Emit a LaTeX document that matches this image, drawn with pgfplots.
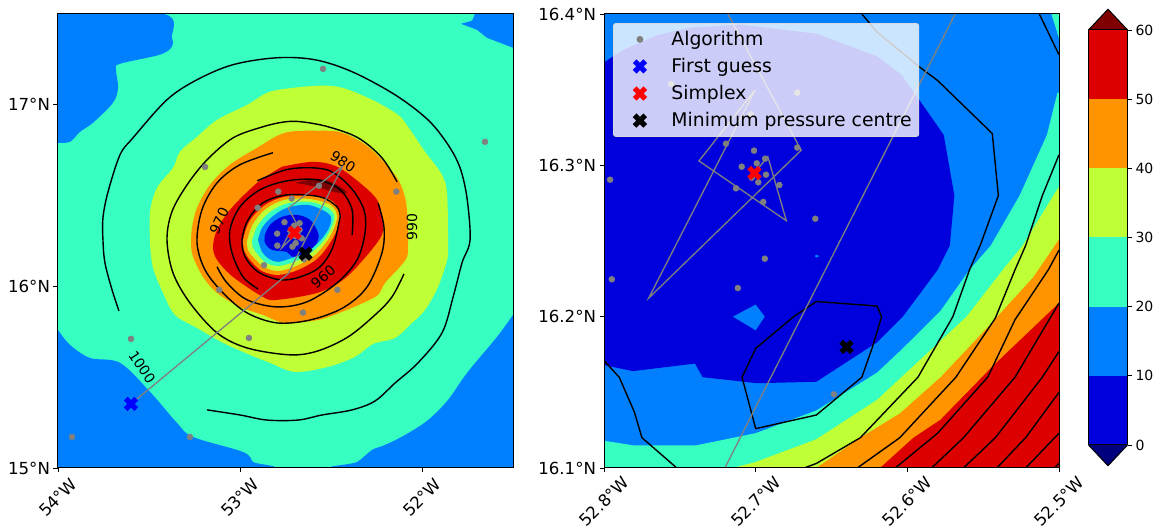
\documentclass[border=0pt]{standalone}
\usepackage{pgfplots}
\usepackage{pgfplotstable}
\usepackage{fontspec}
\setmainfont{DejaVu Sans}
\pgfplotsset{compat=1.18}
\definecolor{cLow}{RGB}{0,0,127}
\definecolor{cA}{RGB}{0,0,220}
\definecolor{cB}{RGB}{0,128,255}
\definecolor{cC}{RGB}{54,255,193}
\definecolor{cD}{RGB}{190,255,54}
\definecolor{cE}{RGB}{255,147,0}
\definecolor{cF}{RGB}{220,0,0}
\definecolor{cHigh}{RGB}{127,0,0}
\definecolor{cGrey}{RGB}{128,128,128}
\pgfplotstableread{
lon lat
-53.599 15.353
-52.736 16.069
-52.437 16.660
-52.735 16.431
-52.670 16.310
-52.7705 16.2123
-52.7004 16.3498
-52.7374 16.3029
-52.6798 16.2634
-52.692 16.3057
-52.7008 16.2949
}\tracktable
\pgfplotstableread{
lon lat
-52.544 17.198
-51.654 16.796
-53.192 16.658
-52.141 16.522
-53.599 15.711
-53.923 15.171
-53.275 15.171
-52.951 15.716
-52.654 15.856
-52.465 15.981
-53.114 15.981
-52.868 16.117
-52.903 16.433
-52.790 16.522
-52.716 16.484
-52.566 16.554
-52.7558 16.3537
-52.6726 16.348
-52.7033 16.3337
-52.7196 16.3143
-52.6726 16.3117
-52.7011 16.3097
-52.6938 16.3044
-52.6993 16.3013
-52.7092 16.2991
-52.6932 16.2938
-52.7026 16.2918
-52.6983 16.2888
-52.6844 16.287
-52.713 16.2848
-52.695 16.2758
-52.6607 16.2647
-52.796 16.2905
-52.694 16.2383
-52.7118 16.2189
-52.7949 16.2247
-52.6484 16.1487
}\algotable
\pgfplotsset{
  mapaxis/.style={
    scale only axis, width=455pt, height=454pt, anchor=south west,
    axis on top, axis line style={line width=1pt},
    tick style={black, line width=0.9pt},
    tickwidth=4.5pt, tick align=outside,
    xtick pos=bottom, ytick pos=left,
    tick label style={font=\fontsize{16.6}{18}\selectfont},
    clip=true,
  },
  region/.style={fill=#1, draw=none, forget plot},
  sregion/.style={fill=#1, draw=none, forget plot, smooth, tension=0.55},
  contour/.style={black, line width=1.4pt, forget plot, line join=round},
  scontour/.style={black, line width=1.4pt, forget plot, line join=round, smooth, tension=0.55},
  track/.style={cGrey, line width=1.3pt, forget plot, line join=miter},
  algo/.style={only marks, mark=*, mark size=3pt, mark options={draw=cGrey, fill=cGrey, fill opacity=1, draw opacity=1},
    legend image code/.code={\path[draw=none] (0pt,0pt) -- (51pt,0pt); \draw[mark repeat=2,mark phase=2,##1,draw=none] plot coordinates {(0pt,0pt)(21.5pt,0pt)(51pt,0pt)};}},
  xmark/.style={only marks, mark=x, mark size=7.5pt, mark options={draw=#1, line width=5.2pt, draw opacity=1},
    legend image code/.code={\path[draw=none] (0pt,0pt) -- (51pt,0pt); \draw[mark repeat=2,mark phase=2,##1,draw=none] plot coordinates {(0pt,0pt)(21.5pt,0pt)(51pt,0pt)};}},
}
\begin{document}
\begin{tikzpicture}[x=1pt,y=1pt]
\path[use as bounding box] (0,0) rectangle (1168,530);
\begin{axis}[mapaxis, at={(58pt,62pt)},
  xmin=-54, xmax=-51.5, ymin=15, ymax=17.5,
  xtick={-54,-53,-52}, xticklabels={54°W,53°W,52°W},
  ytick={15,16,17}, yticklabels={15°N,16°N,17°N},
  x tick label style={yshift=-25pt, rotate=45, anchor=center},
]
\addplot[region=cC] coordinates {(-54,15)(-51.5,15)(-51.5,17.5)(-54,17.5)};
\addplot[sregion=cB] coordinates {(-54,17.5)(-53.418,17.5)(-53.374,17.369)(-53.374,17.320)(-53.440,17.276)(-53.659,17.226)(-53.681,17.193)(-53.670,17.094)(-53.698,17.011)(-53.808,16.901)(-53.879,16.851)(-53.934,16.796)(-54,16.791)};
\addplot[region=cB] coordinates {(-51.709,17.5)(-51.725,17.463)(-51.786,17.446)(-51.698,17.413)(-51.643,17.369)(-51.5,17.314)(-51.5,17.5)};
\addplot[sregion=cB] coordinates {(-54,15.760)(-53.934,15.678)(-53.824,15.606)(-53.659,15.579)(-53.494,15.419)(-53.346,15.248)(-53.258,15.171)(-52.983,15.088)(-52.928,15.033)(-52.874,15)(-54,15)};
\addplot[sregion=cB] coordinates {(-51.5,15.843)(-51.588,15.722)(-51.753,15.523)(-51.857,15.375)(-51.967,15.264)(-52.093,15.182)(-52.203,15.127)(-52.275,15.099)(-52.357,15.033)(-52.461,15)(-51.5,15)};
\addplot[sregion=cD] coordinates {(-53.494,16.229)(-53.494,16.411)(-53.456,16.543)(-53.368,16.653)(-53.330,16.741)(-53.236,16.824)(-53.126,16.917)(-52.961,17.000)(-52.852,17.066)(-52.753,17.088)(-52.571,17.105)(-52.439,17.094)(-52.275,17.028)(-52.132,16.945)(-52.077,16.879)(-51.983,16.741)(-51.890,16.614)(-51.862,16.504)(-51.857,16.229)(-51.862,16.146)(-51.912,15.997)(-51.983,15.871)(-52.055,15.799)(-52.148,15.716)(-52.269,15.683)(-52.368,15.612)(-52.516,15.557)(-52.698,15.529)(-52.835,15.579)(-52.945,15.623)(-53.093,15.689)(-53.236,15.771)(-53.357,15.843)(-53.423,15.964)(-53.478,16.102)(-53.494,16.229)};
\addplot[sregion=cE] coordinates {(-53.269,16.229)(-53.264,16.322)(-53.236,16.433)(-53.165,16.559)(-53.055,16.670)(-52.906,16.763)(-52.753,16.846)(-52.571,16.857)(-52.439,16.846)(-52.297,16.769)(-52.148,16.614)(-52.093,16.488)(-52.077,16.339)(-52.077,16.229)(-52.082,16.163)(-52.121,16.108)(-52.203,16.019)(-52.242,15.953)(-52.324,15.909)(-52.439,15.860)(-52.571,15.815)(-52.753,15.799)(-52.874,15.843)(-53.000,15.887)(-53.126,15.964)(-53.203,16.052)(-53.258,16.163)(-53.269,16.229)};
\addplot[sregion=cF] coordinates {(-52.769,16.659)(-52.599,16.686)(-52.467,16.659)(-52.341,16.570)(-52.247,16.477)(-52.220,16.383)(-52.220,16.284)(-52.324,16.146)(-52.434,16.036)(-52.577,15.964)(-52.797,15.926)(-52.874,15.942)(-53.038,16.052)(-53.126,16.146)(-53.148,16.218)(-53.126,16.311)(-53.055,16.422)(-52.906,16.570)(-52.769,16.659)};
\addplot[sregion=cHigh] coordinates {(-52.698,16.570)(-52.560,16.592)(-52.467,16.559)(-52.412,16.515)(-52.489,16.521)(-52.577,16.548)(-52.698,16.570)};
\addplot[sregion=cE] coordinates {(-52.983,16.256)(-52.950,16.355)(-52.868,16.444)(-52.758,16.493)(-52.615,16.499)(-52.505,16.477)(-52.456,16.422)(-52.450,16.366)(-52.489,16.267)(-52.571,16.157)(-52.681,16.091)(-52.791,16.063)(-52.879,16.085)(-52.945,16.146)(-52.978,16.201)(-52.983,16.256)};
\addplot[sregion=cD] coordinates {(-52.961,16.251)(-52.928,16.344)(-52.857,16.427)(-52.753,16.477)(-52.626,16.482)(-52.516,16.455)(-52.472,16.411)(-52.472,16.355)(-52.511,16.267)(-52.588,16.174)(-52.692,16.113)(-52.791,16.085)(-52.868,16.108)(-52.923,16.157)(-52.956,16.201)(-52.961,16.251)};
\addplot[sregion=cC] coordinates {(-52.934,16.251)(-52.906,16.328)(-52.841,16.405)(-52.747,16.455)(-52.626,16.466)(-52.527,16.438)(-52.483,16.394)(-52.494,16.333)(-52.538,16.256)(-52.610,16.185)(-52.703,16.135)(-52.791,16.113)(-52.857,16.130)(-52.901,16.174)(-52.928,16.212)(-52.934,16.251)};
\addplot[sregion=cB] coordinates {(-52.901,16.256)(-52.879,16.322)(-52.824,16.383)(-52.742,16.433)(-52.632,16.449)(-52.549,16.422)(-52.500,16.383)(-52.511,16.322)(-52.560,16.251)(-52.632,16.190)(-52.714,16.157)(-52.791,16.135)(-52.841,16.152)(-52.879,16.190)(-52.901,16.256)};
\addplot[sregion=cA] coordinates {(-52.863,16.284)(-52.835,16.339)(-52.769,16.383)(-52.687,16.394)(-52.615,16.366)(-52.571,16.295)(-52.577,16.240)(-52.632,16.190)(-52.709,16.163)(-52.742,16.190)(-52.824,16.201)(-52.863,16.240)(-52.863,16.284)};
% contours
\addplot[scontour] coordinates {(-53.665,15.865)(-53.703,15.981)(-53.742,16.130)(-53.753,16.256)(-53.753,16.378)(-53.725,16.521)(-53.659,16.725)(-53.588,16.818)(-53.401,17.028)(-53.236,17.138)(-53.038,17.221)(-52.797,17.259)(-52.588,17.248)(-52.384,17.182)(-52.148,17.055)(-51.967,16.917)(-51.857,16.780)(-51.791,16.653)(-51.753,16.488)(-51.736,16.256)(-51.780,16.130)(-51.829,15.942)(-51.890,15.744)(-52.022,15.579)(-52.148,15.468)(-52.258,15.369)(-52.384,15.320)(-52.549,15.292)(-52.681,15.264)(-52.852,15.264)(-53.000,15.292)(-53.181,15.320)};
\addplot[scontour] coordinates {(-52.137,16.576)(-52.220,16.708)(-52.351,16.818)(-52.516,16.879)(-52.659,16.906)(-52.753,16.906)(-52.874,16.879)(-53.038,16.818)(-53.181,16.697)(-53.291,16.559)(-53.374,16.411)(-53.401,16.256)(-53.368,16.074)(-53.275,15.909)(-53.126,15.744)(-52.961,15.661)(-52.725,15.623)(-52.571,15.645)(-52.406,15.722)(-52.258,15.843)(-52.165,15.942)(-52.099,16.069)};
\addplot[scontour] coordinates {(-52.819,16.736)(-53.000,16.670)(-53.126,16.570)(-53.209,16.422)(-53.236,16.240)(-53.192,16.091)(-53.093,15.964)(-52.961,15.854)(-52.797,15.799)(-52.615,15.815)(-52.434,15.882)(-52.302,15.997)(-52.220,16.185)(-52.209,16.328)(-52.242,16.460)};
\addplot[scontour] coordinates {(-52.906,16.581)(-52.725,16.647)(-52.522,16.642)(-52.395,16.548)(-52.319,16.422)(-52.313,16.295)(-52.357,16.146)(-52.467,16.019)(-52.632,15.915)(-52.797,15.887)(-52.961,15.926)(-53.071,16.019)(-53.126,16.108)};
\addplot[scontour] coordinates {(-52.901,15.986)(-52.983,16.052)(-53.044,16.185)(-53.055,16.311)(-53.000,16.438)(-52.890,16.532)(-52.742,16.581)(-52.577,16.587)(-52.450,16.532)(-52.384,16.422)(-52.384,16.284)};
\addplot[scontour] coordinates {(-52.450,16.383)(-52.467,16.438)(-52.560,16.493)(-52.742,16.504)(-52.874,16.460)(-52.956,16.366)(-52.989,16.256)(-52.972,16.163)(-52.901,16.080)(-52.780,16.036)(-52.670,16.052)(-52.560,16.108)(-52.489,16.218)(-52.450,16.383)};
\node[font=\fontsize{14}{16}\selectfont, rotate=-56] at (axis cs:-53.538,15.556) {1000};
\node[font=\fontsize{14}{16}\selectfont, rotate=65] at (axis cs:-53.115,16.361) {970};
\node[font=\fontsize{14}{16}\selectfont, rotate=-33] at (axis cs:-52.434,16.686) {980};
\node[font=\fontsize{14}{16}\selectfont, rotate=90] at (axis cs:-52.055,16.328) {990};
\node[font=\fontsize{14}{16}\selectfont, rotate=40] at (axis cs:-52.543,16.052) {960};
\addplot[track] table[x=lon,y=lat] {\tracktable};
\addplot[algo, forget plot] table[x=lon,y=lat] {\algotable};
\addplot[xmark=blue, forget plot] coordinates {(-53.599,15.353)};
\addplot[xmark=red, forget plot] coordinates {(-52.7008,16.2949)};
\addplot[xmark=black, forget plot] coordinates {(-52.6401,16.18)};
\end{axis}

\begin{axis}[mapaxis, at={(604pt,62pt)},
  xmin=-52.8, xmax=-52.5, ymin=16.1, ymax=16.4,
  xtick={-52.8,-52.7,-52.6,-52.5}, xticklabels={52.8°W,52.7°W,52.6°W,52.5°W},
  ytick={16.1,16.2,16.3,16.4}, yticklabels={16.1°N,16.2°N,16.3°N,16.4°N},
  x tick label style={yshift=-29pt, rotate=45, anchor=center},
  legend cell align=left,
  legend style={at={(0.0198,0.98)}, anchor=north west,
    fill=white, fill opacity=0.8, draw opacity=1, text opacity=1,
    draw=black!15, rounded corners=2.5pt, line width=0.8pt,
    font=\fontsize{18.8}{21}\selectfont,
    inner xsep=5pt, inner ysep=6pt, row sep=7.3pt},
]
\addplot[region=cB] coordinates {(-52.8,16.1)(-52.5,16.1)(-52.5,16.4)(-52.8,16.4)};
\addplot[region=cA] coordinates {(-52.8,16.368)(-52.788,16.376)(-52.765,16.386)(-52.743,16.391)(-52.710,16.393)(-52.660,16.387)(-52.620,16.372)(-52.604,16.360)(-52.585,16.333)(-52.576,16.320)(-52.569,16.280)(-52.572,16.247)(-52.580,16.231)(-52.603,16.200)(-52.620,16.183)(-52.660,16.157)(-52.699,16.156)(-52.735,16.160)(-52.740,16.169)(-52.781,16.164)(-52.8,16.168)};
\addplot[region=cB] coordinates {(-52.715,16.200)(-52.700,16.208)(-52.694,16.200)(-52.700,16.191)};
\addplot[region=cB] coordinates {(-52.661,16.240)(-52.660,16.241)(-52.658,16.240)(-52.660,16.239)};
\addplot[region=cC] coordinates {(-52.8,16.118)(-52.781,16.115)(-52.739,16.115)(-52.700,16.123)(-52.660,16.138)(-52.620,16.163)(-52.603,16.179)(-52.578,16.204)(-52.559,16.231)(-52.545,16.247)(-52.526,16.280)(-52.508,16.320)(-52.501,16.348)(-52.5,16.348)(-52.5,16.1)(-52.8,16.1)};
\addplot[region=cC] coordinates {(-52.505,16.4)(-52.5,16.4)(-52.5,16.384)};
\addplot[region=cD] coordinates {(-52.715,16.1)(-52.700,16.104)(-52.660,16.119)(-52.620,16.145)(-52.561,16.200)(-52.537,16.231)(-52.524,16.247)(-52.5,16.286)(-52.5,16.1)};
\addplot[region=cE] coordinates {(-52.660,16.1)(-52.631,16.120)(-52.605,16.136)(-52.578,16.160)(-52.547,16.193)(-52.517,16.226)(-52.5,16.251)(-52.5,16.1)};
\addplot[region=cF] coordinates {(-52.618,16.1)(-52.596,16.120)(-52.578,16.132)(-52.544,16.167)(-52.5,16.209)(-52.5,16.1)};
% contours
\addplot[contour] coordinates {(-52.660,16.210)(-52.620,16.207)(-52.617,16.200)(-52.623,16.180)(-52.630,16.160)(-52.660,16.135)(-52.700,16.126)(-52.709,16.160)(-52.700,16.179)(-52.675,16.200)(-52.660,16.210)};
\addplot[contour] coordinates {(-52.8,16.171)(-52.790,16.160)(-52.780,16.137)(-52.775,16.120)(-52.752,16.1)};
\addplot[contour] coordinates {(-52.630,16.4)(-52.620,16.388)(-52.592,16.365)(-52.580,16.356)(-52.544,16.321)(-52.540,16.280)(-52.552,16.247)(-52.559,16.231)(-52.570,16.200)(-52.593,16.160)(-52.631,16.120)(-52.660,16.103)(-52.668,16.1)};
\addplot[contour] coordinates {(-52.513,16.4)(-52.5,16.373)};
\addplot[contour] coordinates {(-52.5,16.307)(-52.511,16.280)(-52.522,16.247)(-52.529,16.231)(-52.542,16.199)(-52.568,16.160)(-52.605,16.120)(-52.633,16.1)};
\addplot[contour] coordinates {(-52.5,16.244)(-52.507,16.231)(-52.529,16.198)(-52.547,16.160)(-52.580,16.123)(-52.608,16.1)};
\addplot[contour] coordinates {(-52.5,16.209)(-52.529,16.160)(-52.563,16.120)(-52.584,16.1)};
\addplot[contour] coordinates {(-52.5,16.177)(-52.511,16.160)(-52.542,16.120)(-52.563,16.1)};
\addplot[contour] coordinates {(-52.5,16.150)(-52.522,16.120)(-52.541,16.1)};
\addplot[contour] coordinates {(-52.5,16.123)(-52.522,16.1)};
\addplot[contour] coordinates {(-52.5,16.103)(-52.503,16.1)};
\addplot[track] table[x=lon,y=lat] {\tracktable};
\addplot[algo] table[x=lon,y=lat] {\algotable};
\addlegendentry{Algorithm}
\addplot[xmark=blue] coordinates {(-53.599,15.353)};
\addlegendentry{First guess}
\addplot[xmark=red] coordinates {(-52.7008,16.2949)};
\addlegendentry{Simplex}
\addplot[xmark=black] coordinates {(-52.6401,16.18)};
\addlegendentry{Minimum pressure centre}
\end{axis}

\begin{axis}[scale only axis, width=39pt, height=415pt, anchor=south west, at={(1088.5pt,85pt)},
  xmin=0, xmax=1, ymin=0, ymax=60, clip=false, axis on top,
  axis line style={line width=1pt},
  xtick=\empty, ytick pos=right, ytick={0,10,20,30,40,50,60},
  yticklabels={0,10,20,30,40,50,60},
  tick style={black, line width=0.9pt}, tickwidth=4.5pt, tick align=outside,
  tick label style={font=\fontsize{14}{16}\selectfont},
]
\addplot[region=cA] coordinates {(0,0)(1,0)(1,10)(0,10)};
\addplot[region=cB] coordinates {(0,10)(1,10)(1,20)(0,20)};
\addplot[region=cC] coordinates {(0,20)(1,20)(1,30)(0,30)};
\addplot[region=cD] coordinates {(0,30)(1,30)(1,40)(0,40)};
\addplot[region=cE] coordinates {(0,40)(1,40)(1,50)(0,50)};
\addplot[region=cF] coordinates {(0,50)(1,50)(1,60)(0,60)};
\addplot[fill=cHigh, draw=black, line width=1pt, forget plot] coordinates {(0,60)(0.5,63)(1,60)};
\addplot[fill=cLow, draw=black, line width=1pt, forget plot] coordinates {(0,0)(0.5,-3)(1,0)};
\end{axis}
\end{tikzpicture}
\end{document}
